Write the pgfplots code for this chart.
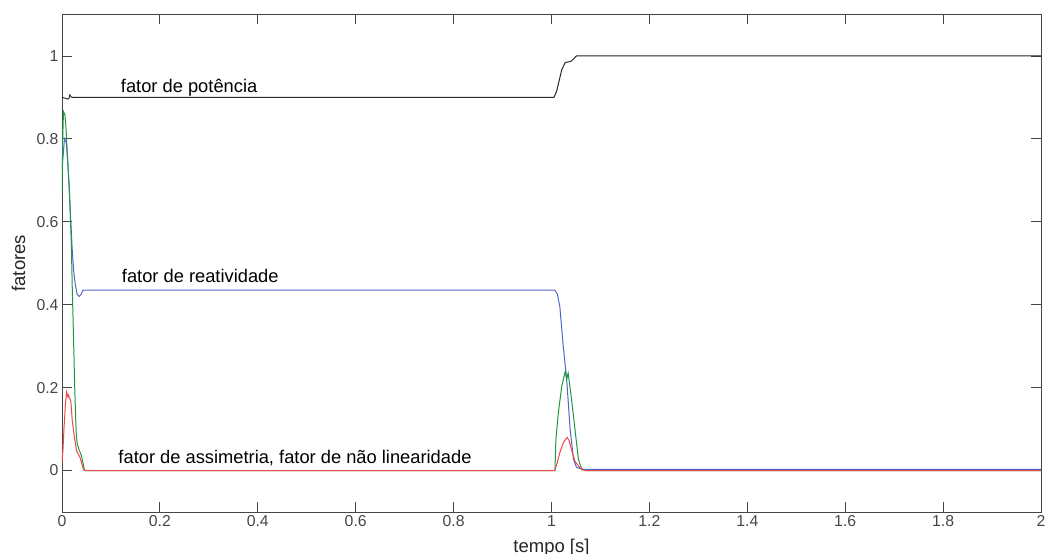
\documentclass[border=0pt]{standalone}
\usepackage{fontspec}
\setmainfont{Liberation Sans}
\usepackage{pgfplots}
\pgfplotsset{compat=1.18}
\definecolor{cblue}{RGB}{80,100,200}
\definecolor{cgreen}{RGB}{30,150,70}
\definecolor{cred}{RGB}{240,70,70}
\definecolor{cblack}{RGB}{40,40,40}
\definecolor{caxis}{RGB}{70,70,70}
\begin{document}
\begin{tikzpicture}
\begin{axis}[
 scale only axis, width=979bp, height=497.5bp,
 xmin=0, xmax=2, ymin=-0.1, ymax=1.1,
 xtick={0,0.2,0.4,0.6,0.8,1,1.2,1.4,1.6,1.8,2},
 ytick={0,0.2,0.4,0.6,0.8,1},
 xticklabels={0,0.2,0.4,0.6,0.8,1,1.2,1.4,1.6,1.8,2},
 yticklabels={0,0.2,0.4,0.6,0.8,1},
 tick align=inside, major tick length=10bp,
 axis line style={caxis, line width=0.9bp},
 tick style={caxis, line width=0.9bp},
 ticklabel style={font=\fontsize{15.8bp}{18bp}\selectfont, text=caxis},
 xlabel={tempo [s]}, ylabel={fatores},
 label style={font=\fontsize{18.5bp}{22bp}\selectfont, text=black!85},
 xlabel style={at={(axis description cs:0.5,0)}, anchor=base, yshift=-40bp},
 ylabel style={at={(axis description cs:0,0.5)}, anchor=center, rotate=0, yshift=43.5bp},
 every axis plot/.append style={line width=1bp},
]
\addplot[cblack] coordinates {
(0,0.9) (0.007,0.898) (0.011,0.896) (0.014,0.897) (0.016,0.906) (0.019,0.901) (0.022,0.9)
(1.005,0.9) (1.0105,0.915) (1.021,0.967) (1.028,0.984) (1.036,0.986) (1.041,0.988) (1.046,0.994) (1.051,1.0) (2,1.0)};
\addplot[cblue] coordinates {
(0,0.725) (0.005,0.80) (0.009,0.79) (0.013,0.72) (0.018,0.60) (0.021,0.53) (0.024,0.48) (0.027,0.45)
(0.031,0.425) (0.035,0.42) (0.039,0.425) (0.043,0.435) (1.007,0.435) (1.012,0.425) (1.017,0.396)
(1.024,0.30) (1.031,0.22) (1.038,0.10) (1.045,0.027) (1.051,0.008) (1.06,0.004) (1.07,0.003) (2,0.003)};
\addplot[cgreen] coordinates {
(0,0.67) (0.0015,0.80) (0.003,0.866) (0.006,0.858) (0.008,0.83) (0.011,0.76) (0.015,0.68) (0.019,0.55)
(0.021,0.44) (0.024,0.30) (0.026,0.20) (0.029,0.09) (0.031,0.065) (0.035,0.05) (0.04,0.035) (0.046,0.0)
(1.007,0) (1.009,0.075) (1.014,0.14) (1.021,0.203) (1.028,0.239) (1.031,0.22) (1.034,0.235) (1.041,0.171)
(1.048,0.099) (1.055,0.027) (1.062,0.002) (1.07,0) (2,0)};
\addplot[cred] coordinates {
(0,0.02) (0.002,0.05) (0.004,0.10) (0.007,0.16) (0.0095,0.189) (0.012,0.178) (0.0135,0.182) (0.015,0.175)
(0.018,0.168) (0.021,0.12) (0.025,0.083) (0.03,0.047) (0.037,0.031) (0.044,0.002) (0.05,0)
(1.007,0) (1.012,0.02) (1.017,0.043) (1.024,0.067) (1.032,0.08) (1.036,0.072) (1.041,0.05) (1.048,0.022)
(1.058,0.007) (1.068,0) (2,0)};
\node[anchor=base west, inner sep=0pt, font=\fontsize{18.3bp}{22bp}\selectfont] at (axis cs:0.12,0.912) {fator de potência};
\node[anchor=base west, inner sep=0pt, font=\fontsize{18.3bp}{22bp}\selectfont] at (axis cs:0.122,0.4537) {fator de reatividade};
\node[anchor=base west, inner sep=0pt, font=\fontsize{18.3bp}{22bp}\selectfont] at (axis cs:0.115,0.018) {fator de assimetria, fator de não linearidade};
\coordinate (bl) at (rel axis cs:0,0);
\coordinate (tr) at (rel axis cs:1,1);
\end{axis}
\path (bl) ++(-62bp,-42bp) coordinate (A);
\path (tr) ++(10bp,14.5bp) coordinate (B);
\pgfresetboundingbox
\path[use as bounding box] (A) rectangle (B);
\end{tikzpicture}
\end{document}
